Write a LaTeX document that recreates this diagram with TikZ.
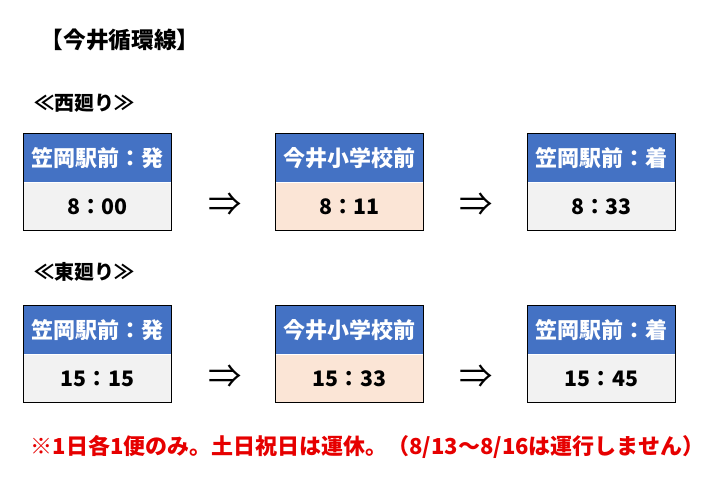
\documentclass[tikz,border=0pt]{standalone}
\usepackage{fontspec}
\setmainfont{Noto Sans CJK JP}
\usetikzlibrary{positioning}
\definecolor{hdrblue}{RGB}{68,114,196}
\definecolor{cellgray}{RGB}{242,242,242}
\definecolor{cellpeach}{RGB}{251,229,214}
\definecolor{notered}{RGB}{230,0,0}

\tikzset{
  hdr/.style={fill=hdrblue, text=white, font=\fontsize{16.5}{18}\selectfont\bfseries,
    minimum width=111pt, minimum height=36pt, inner sep=0pt},
  cell/.style={fill=cellgray, font=\fontsize{16}{18}\selectfont\bfseries,
    minimum width=111pt, minimum height=36pt, inner sep=0pt},
  cellhl/.style={cell, fill=cellpeach},
  frame/.style={draw=black, line width=0.8pt},
  thenarrow/.style={font=\fontsize{25}{27}\selectfont},
  label/.style={anchor=west, font=\fontsize{15}{17}\selectfont\bfseries}
}

\begin{document}
\begin{tikzpicture}[x=0.75pt, y=-0.75pt]
  \useasboundingbox (0,0) rectangle (707,480);

  % Title
  \node[label, font=\fontsize{17}{19}\selectfont\bfseries] (title) at (36,40) {【今井循環線】};

  % West loop
  \node[label] (westlbl) at (30,103) {≪西廻り≫};
  \node[hdr] (w1) at (97.5,158) {笠岡駅前：発};
  \node[cell, below=0pt of w1] (w1t) {8：00};
  \node[hdr] (w2) at (349.5,158) {今井小学校前};
  \node[cellhl, below=0pt of w2] (w2t) {8：11};
  \node[hdr] (w3) at (601.5,158) {笠岡駅前：着};
  \node[cell, below=0pt of w3] (w3t) {8：33};
  \node[thenarrow] (wa1) at (225,205) {⇒};
  \node[thenarrow] (wa2) at (476.5,205) {⇒};

  % East loop
  \node[label] (eastlbl) at (30,272) {≪東廻り≫};
  \node[hdr] (e1) at (97.5,330) {笠岡駅前：発};
  \node[cell, below=0pt of e1] (e1t) {15：15};
  \node[hdr] (e2) at (349.5,330) {今井小学校前};
  \node[cellhl, below=0pt of e2] (e2t) {15：33};
  \node[hdr] (e3) at (601.5,330) {笠岡駅前：着};
  \node[cell, below=0pt of e3] (e3t) {15：45};
  \node[thenarrow] (ea1) at (225,377) {⇒};
  \node[thenarrow] (ea2) at (476.5,377) {⇒};

  % Box outlines
  \foreach \b in {w1,w2,w3,e1,e2,e3} {
    \draw[frame] (\b.north west) rectangle (\b t.south east);
  }

  % Note
  \node[label, text=notered, font=\fontsize{16.5}{18}\selectfont\bfseries] (note) at (26,447)
    {※1日各1便のみ。土日祝日は運休。（8/13～8/16は運行しません）};
\end{tikzpicture}
\end{document}
